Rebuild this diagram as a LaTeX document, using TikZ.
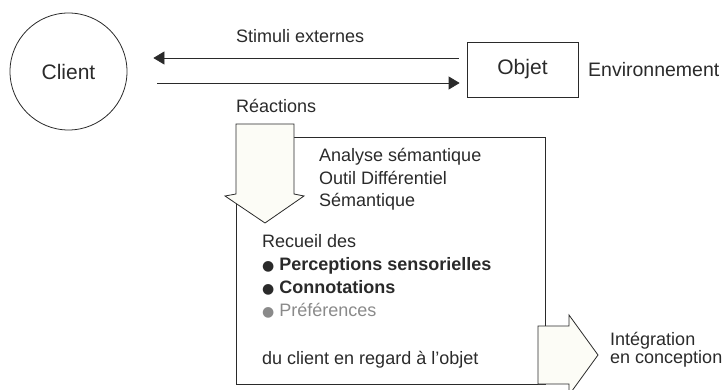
\documentclass[tikz,border=0pt]{standalone}
\usepackage{fontspec}
\setmainfont{Liberation Sans}
\newfontfamily\dotfont{DejaVu Sans}
\newcommand{\dotmark}{{\dotfont\fontsize{14}{14}\selectfont ●}\hspace{5pt}}
\usetikzlibrary{arrows.meta}

\begin{document}
\begin{tikzpicture}
	[x=1pt,y=-1pt,line join=miter,
	%Styles
	txt/.style={anchor=base west,inner sep=0pt,text=ink,font=\fontsize{18}{22}\selectfont},
	big/.style={txt,font=\fontsize{19.5}{23}\selectfont},
	frame/.style={draw=ink,line width=0.8pt},
	flow/.style={draw=ink,line width=0.8pt,-{Triangle[length=11pt,width=13pt]}},
	fat arrow/.style={frame,fill=paper}
	]
	
	%Colors
	\definecolor{ink}{HTML}{2A2A2A}
	\definecolor{paper}{HTML}{FCFCF6}
	\definecolor{faded}{HTML}{8A8A8A}
	
	\useasboundingbox (0,0) rectangle (725,390);
	
	%The graphic
	\node[circle,frame,minimum size=117pt,inner sep=0pt,text=ink,font=\fontsize{21}{25}\selectfont] (client) at (68.5,71.5) {Client};
	\node[frame,minimum width=111pt,minimum height=55pt,text=ink,font=\fontsize{21}{25}\selectfont] (objet) at (522.5,69.5) {Objet};
	\node[big] (env) at (588,76.5) {Environnement};
	
	\coordinate (stimA) at ([shift={(-8,-11.5)}]objet.west);
	\coordinate (stimB) at ([shift={(26,-13.5)}]client.east);
	\coordinate (reacA) at ([shift={(30,11.5)}]client.east);
	\coordinate (reacB) at ([shift={(-7,13.5)}]objet.west);
	\draw[flow] (stimA) -- (stimB);
	\draw[flow] (reacA) -- (reacB);
	\node[txt] (stimuli) at (236,43) {Stimuli externes};
	\node[txt] (reactions) at (236,113) {Réactions};
	
	\draw[frame] (236,137) rectangle (545,384);
	\draw[fat arrow] (236,124) -- (294,124) -- (294,194) -- (304,196) -- (265,223) -- (225,196) -- (236,194) -- cycle;
	\draw[fat arrow] (538,326) -- (569,326) -- (569,315) -- (598,355) -- (569,395) -- (569,384) -- (538,384) -- cycle;
	
	\node[txt] (analyse) at (319,162) {Analyse sémantique};
	\node[txt] (outil) at (319,185) {Outil Différentiel};
	\node[txt] (semantique) at (319,207) {Sémantique};
	
	\node[txt] (recueil) at (262,247) {Recueil des};
	\node[txt] (perceptions) at (262,270) {\dotmark\textbf{Perceptions sensorielles}};
	\node[txt] (connotations) at (262,293) {\dotmark\textbf{Connotations}};
	\node[txt,text=faded] (preferences) at (262,316) {\dotmark Préférences};
	\node[txt] (regard) at (262,364) {du client en regard à l’objet};
	
	\node[txt] (integration) at (610,345) {Intégration};
	\node[txt] (conception) at (610,363) {en conception};
\end{tikzpicture}
\end{document}
